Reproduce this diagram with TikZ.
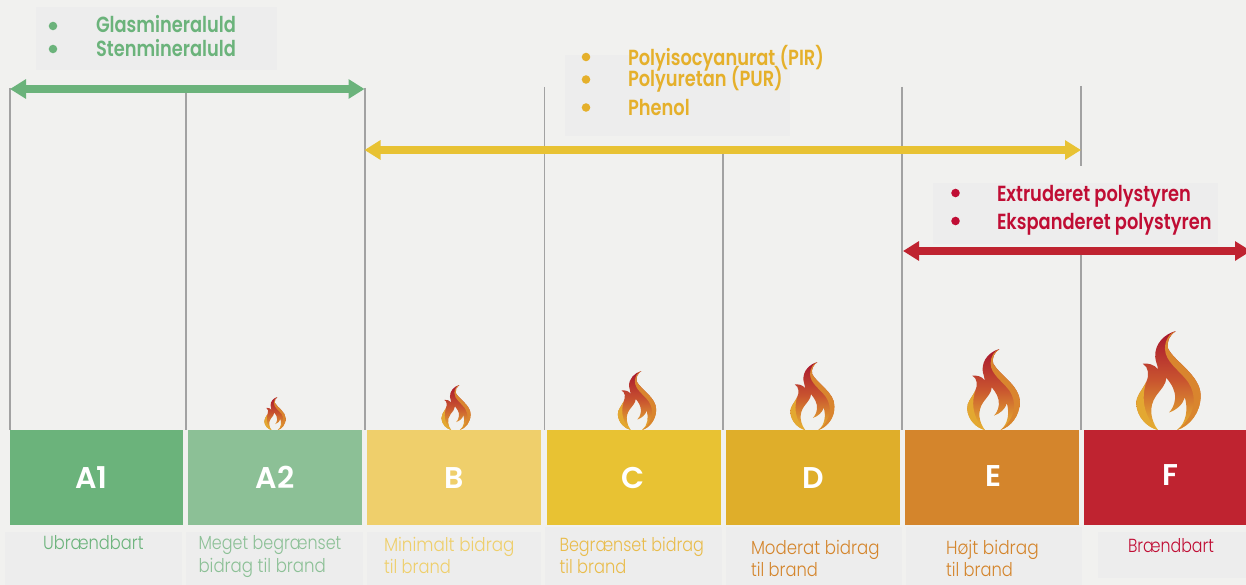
\documentclass[tikz,border=0pt]{standalone}
\usepackage{fontspec}
\usetikzlibrary{arrows.meta}
\newfontfamily\labfont[FakeStretch=0.86]{Poppins Light}
\newfontfamily\hdfont[FakeStretch=0.815]{Poppins SemiBold}
\newfontfamily\letfont{Poppins SemiBold}
\definecolor{bgc}{HTML}{F1F1EF}
\definecolor{panelc}{HTML}{EDEDED}
\definecolor{linec}{HTML}{A2A2A2}
\definecolor{greenA}{HTML}{6BB37B}
\definecolor{greenB}{HTML}{8CC096}
\definecolor{yelB}{HTML}{EFCF6B}
\definecolor{yelC}{HTML}{E8C233}
\definecolor{yelD}{HTML}{DFAE2A}
\definecolor{oraE}{HTML}{D4852C}
\definecolor{redF}{HTML}{BF2330}
\definecolor{txtY}{HTML}{E5B02B}
\definecolor{txtR}{HTML}{C00D34}
\definecolor{flTop}{HTML}{A8152E}
\definecolor{flMid}{HTML}{C9552F}
\definecolor{flBot}{HTML}{E8B632}
\definecolor{flRight}{HTML}{D9852E}
\tikzset{
  panel/.style={fill=panelc,draw=none},
  classbox/.style={inner sep=0pt,outer sep=0pt,minimum height=71.25pt,anchor=north west},
  vline/.style={draw=linec,line width=0.95pt},
  dblarrow/.style={line width=5.4pt,{Triangle[length=12pt,width=14pt]}-{Triangle[length=12pt,width=14pt]}},
  head/.style={anchor=base west,inner sep=0pt,outer sep=0pt,font=\hdfont\fontsize{16.4}{16.4}\selectfont},
  lab/.style={anchor=base west,inner sep=0pt,outer sep=0pt,font=\labfont\fontsize{14.2}{14.2}\selectfont},
  bul/.style={circle,inner sep=0pt,minimum size=6.4pt},
  letter/.style={anchor=base,inner sep=0pt,outer sep=0pt,text=white,font=\letfont\fontsize{22.5}{22.5}\selectfont}
}
\newcommand{\flamepic}[3]{%
\begin{scope}[shift={(#1,#2)},scale=#3/294,shift={(-236.5,-327)}]
\shade[top color=flTop,bottom color=flBot,middle color=flMid]
 (258,33) .. controls (225,42) and (195,70) .. (197,110)
 .. controls (198,125) and (205,135) .. (205,147)
 .. controls (195,132) and (175,128) .. (160,130)
 .. controls (178,140) and (180,165) .. (170,185)
 .. controls (155,215) and (140,225) .. (141,250)
 .. controls (143,290) and (175,320) .. (205,327)
 .. controls (185,300) and (175,260) .. (200,225)
 .. controls (215,205) and (230,190) .. (230,172)
 .. controls (245,190) and (258,210) .. (256,235)
 .. controls (254,255) and (245,268) .. (238,275)
 .. controls (260,268) and (280,250) .. (285,230)
 .. controls (295,265) and (290,305) .. (262,327)
 .. controls (300,315) and (332,275) .. (332,225)
 .. controls (332,165) and (255,125) .. (235,85)
 .. controls (230,65) and (240,45) .. (258,33) -- cycle;
\fill[flRight]
 (258,33) .. controls (240,38) and (226,60) .. (226,85)
 .. controls (226,125) and (270,150) .. (295,185)
 .. controls (318,220) and (325,280) .. (262,327)
 .. controls (300,315) and (332,275) .. (332,225)
 .. controls (332,165) and (255,125) .. (235,85)
 .. controls (230,65) and (240,45) .. (258,33) -- cycle;
\fill[flBot!85!flMid]
 (170,185) .. controls (155,215) and (140,225) .. (141,250)
 .. controls (143,290) and (175,320) .. (205,327)
 .. controls (175,300) and (150,250) .. (170,185) -- cycle;
\end{scope}}
\begin{document}
\begin{tikzpicture}[x=0.75pt,y=-0.75pt]
\useasboundingbox (0,0) rectangle (1246,585);
\clip (0,0) rectangle (1246,585);
\fill[bgc] (0,0) rectangle (1246,585);
% lines (top and bottom ends)
\foreach \n/\x/\t/\e in {a/10/88/430,b/186/90/430,c/365/88/430,d/544.5/87/430,e/723/154/430,f/902/87/430,g/1081/86/166,h/1081/255/430}{
  \coordinate (t\n) at (\x,\t);
  \coordinate (b\n) at (\x,\e);
  \draw[vline] (t\n) -- (b\n);
}
% panels
\fill[panel] (36,7) rectangle (277,70);
\fill[panel] (565,55) rectangle (790,136);
\fill[panel] (933,183) rectangle (1218,244);
\fill[panel] (5,532) rectangle (182,585);
\fill[panel] (186,532) rectangle (363,585);
\fill[panel] (367,532) rectangle (541,585);
\fill[panel] (545,527) rectangle (722,585);
\fill[panel] (726,527) rectangle (902,585);
\fill[panel] (906,527) rectangle (1082,585);
\fill[panel] (1098,532) rectangle (1246,578);
% flames
\flamepic{275}{430}{33}
\flamepic{456}{430}{45}
\flamepic{637}{430}{59}
\flamepic{812.5}{430}{68}
\flamepic{993.5}{430}{81}
\flamepic{1168.5}{430}{99}
% class boxes
\node[classbox,fill=greenA,minimum width=130pt] (A1) at (10,430) {};
\node[classbox,fill=greenB,minimum width=130.5pt] (A2) at (188,430) {};
\node[classbox,fill=yelB,minimum width=130.5pt] (B) at (367,430) {};
\node[classbox,fill=yelC,minimum width=130.5pt] (C) at (547,430) {};
\node[classbox,fill=yelD,minimum width=130.5pt] (D) at (726,430) {};
\node[classbox,fill=oraE,minimum width=130.5pt] (E) at (905,430) {};
\node[classbox,fill=redF,minimum width=122pt] (F) at (1084,430) {};
\node[letter] (lA1) at (91.5,488) {A1};
\node[letter] (lA2) at (275,488) {A2};
\node[letter] (lB) at (454.5,488) {B};
\node[letter] (lC) at (633.5,488) {C};
\node[letter] (lD) at (813.5,488) {D};
\node[letter] (lE) at (993.5,486) {E};
\node[letter] (lF) at (1170.5,485) {F};
% arrows
\coordinate (gL) at (10,89);
\coordinate (gR) at (364.5,89);
\coordinate (yL) at (364.5,150);
\coordinate (yR) at (1081,150);
\coordinate (rL) at (903,251);
\coordinate (rR) at (1251,251);
\draw[dblarrow,greenA] (gL) -- (gR);
\draw[dblarrow,yelC] (yL) -- (yR);
\draw[dblarrow,redF] (rL) -- (rR);
% heads
\node[bul,fill=greenA] (g1) at (53,26) {};
\node[bul,fill=greenA] (g2) at (53,49) {};
\node[head,text=greenA] (gt1) at (96,33) {Glasmineraluld};
\node[head,text=greenA] (gt2) at (96,57) {Stenmineraluld};
\node[bul,fill=txtY] (y1) at (586,57) {};
\node[bul,fill=txtY] (y2) at (586,79.5) {};
\node[bul,fill=txtY] (y3) at (586,107.5) {};
\node[head,text=txtY] (yt1) at (628,65) {Polyisocyanurat (PIR)};
\node[head,text=txtY] (yt2) at (628,87) {Polyuretan (PUR)};
\node[head,text=txtY] (yt3) at (628,116) {Phenol};
\node[bul,fill=txtR] (r1) at (955.5,193) {};
\node[bul,fill=txtR] (r2) at (955.5,221) {};
\node[head,text=txtR] (rt1) at (997,201) {Extruderet polystyren};
\node[head,text=txtR] (rt2) at (997,229) {Ekspanderet polystyren};
% labels
\node[lab,text=greenA] (la1) at (43,549) {Ubrændbart};
\node[lab,text=greenB,xscale=0.98,transform shape] (la2a) at (198.5,549) {Meget begrænset};
\node[lab,text=greenB,xscale=1.02,transform shape] (la2b) at (198.5,572) {bidrag til brand};
\node[lab,text=yelB,xscale=1.03,transform shape] (lb1) at (384,551) {Minimalt bidrag};
\node[lab,text=yelB] (lb2) at (384,573) {til brand};
\node[lab,text=txtY!85!white,xscale=0.98,transform shape] (lc1) at (559.5,551) {Begrænset bidrag};
\node[lab,text=txtY!85!white] (lc2) at (559.5,573) {til brand};
\node[lab,text=oraE,xscale=1.02,transform shape] (ld1) at (751,554) {Moderat bidrag};
\node[lab,text=oraE] (ld2) at (751,576) {til brand};
\node[lab,text=oraE,xscale=1.04,transform shape] (le1) at (946,554) {Højt bidrag};
\node[lab,text=oraE] (le2) at (946,576) {til brand};
\node[lab,text=txtR,xscale=0.97,transform shape] (lf1) at (1128,552) {Brændbart};
\end{tikzpicture}
\end{document}
